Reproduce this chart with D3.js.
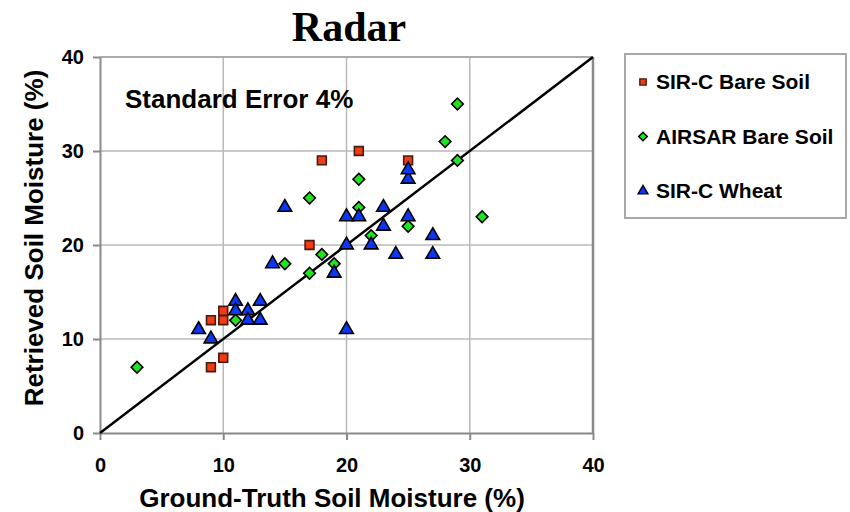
<!DOCTYPE html>
<meta charset="utf-8">
<style>
  body { margin: 0; background: #fff; }
  text { font-family: "Liberation Sans", Arial, sans-serif; font-weight: bold; fill: #000; }
  .grid line { stroke: #b8b8b8; stroke-width: 1.5px; }
  .axis path, .axis line { stroke: #8a8a8a; stroke-width: 2px; }
</style>
<svg width="850" height="512"></svg>
<script src="https://d3js.org/d3.v7.min.js"></script>
<script>

    var svg = d3.select("svg");

    var sircBareX = [9, 10, 9, 10, 10, 17, 18, 21, 25];
    var sircBareY = [7, 8, 12, 12, 13, 20, 29, 30, 29];

    var airsarX = [3, 11, 15, 17, 19, 18, 22, 17, 21, 21, 25, 28, 29, 29, 31];
    var airsarY = [7, 12, 18, 17, 18, 19, 21, 25, 24, 27, 22, 31, 29, 35, 23];

    var wheatX = [8, 9, 11, 11, 12, 12, 13, 13, 14, 15, 19, 20, 20, 21, 20, 22, 23, 23, 24, 25, 25, 25, 27, 27];
    var wheatY = [11, 10, 14, 13, 13, 12, 12, 14, 18, 24, 17, 20, 23, 23, 11, 20, 22, 24, 19, 23, 27, 28, 21, 19];

    var tickValues = [0, 10, 20, 30, 40];
    var seriesNames = ["SIR-C Bare Soil", "AIRSAR Bare Soil", "SIR-C Wheat"];

    var x = d3.scaleLinear().domain([0, 40]).range([100, 593]);
    var y = d3.scaleLinear().domain([0, 40]).range([433, 57]);

    function zip(xs, ys) {
        return xs.map(function(v, i) { return {x: v, y: ys[i]}; });
    }

    var series = [
        {name: seriesNames[0], data: zip(sircBareX, sircBareY), type: d3.symbolSquare, size: 78, legendSize: 40, rot: 0, fill: "#f03c14", stroke: "#4a1a10"},
        {name: seriesNames[1], data: zip(airsarX, airsarY), type: d3.symbolSquare, size: 68, legendSize: 38, rot: 45, fill: "#1ee61e", stroke: "#000"},
        {name: seriesNames[2], data: zip(wheatX, wheatY), type: d3.symbolTriangle, size: 80, legendSize: 42, rot: 0, fill: "#0a37f5", stroke: "#000"}
    ];

    // grid
    var grid = svg.append("g").attr("class", "grid");
    grid.selectAll(".gx")
        .data(tickValues.slice(1, 4))
        .enter().append("line")
        .attr("x1", function(d) { return x(d); })
        .attr("x2", function(d) { return x(d); })
        .attr("y1", y(0))
        .attr("y2", y(40));
    grid.selectAll(".gy")
        .data(tickValues.slice(1, 4))
        .enter().append("line")
        .attr("x1", x(0))
        .attr("x2", x(40))
        .attr("y1", function(d) { return y(d); })
        .attr("y2", function(d) { return y(d); });

    // plot border top / right
    svg.append("line")
        .attr("x1", x(0)).attr("x2", x(40)).attr("y1", y(40)).attr("y2", y(40))
        .attr("stroke", "#aaa").attr("stroke-width", 2);
    svg.append("line")
        .attr("x1", x(40)).attr("x2", x(40)).attr("y1", y(0)).attr("y2", y(40))
        .attr("stroke", "#8a8a8a").attr("stroke-width", 2.5);

    // axes
    var xAxis = svg.append("g")
        .attr("class", "axis")
        .attr("transform", "translate(0," + y(0) + ")")
        .call(d3.axisBottom(x).tickValues(tickValues).tickSize(7).tickPadding(18).tickSizeOuter(0));
    xAxis.selectAll("text").style("font-size", "20px").style("font-family", null);

    var yAxis = svg.append("g")
        .attr("class", "axis")
        .attr("transform", "translate(" + x(0) + ",0)")
        .call(d3.axisLeft(y).tickValues(tickValues).tickSize(7).tickPadding(9).tickSizeOuter(0));
    yAxis.selectAll("text").style("font-size", "20px").style("font-family", null);

    svg.selectAll(".axis text").attr("fill", "#000");

    // 1:1 line
    svg.append("line")
        .attr("x1", x(0)).attr("y1", y(0))
        .attr("x2", x(40)).attr("y2", y(40))
        .attr("stroke", "#000")
        .attr("stroke-width", 2.5);

    // points
    series.forEach(function(s) {
        svg.append("g")
            .selectAll("path")
            .data(s.data)
            .enter().append("path")
            .attr("d", d3.symbol().type(s.type).size(s.size))
            .attr("transform", function(d) { return "translate(" + x(d.x) + "," + y(d.y) + ") rotate(" + s.rot + ")"; })
            .attr("fill", s.fill)
            .attr("stroke", s.stroke)
            .attr("stroke-width", 1.6);
    });

    // labels
    svg.append("text")
        .attr("x", 349)
        .attr("y", 41)
        .attr("text-anchor", "middle")
        .style("font-family", "'Liberation Serif', 'Times New Roman', serif")
        .style("font-size", "42px")
        .text("Radar");

    svg.append("text")
        .attr("x", 125)
        .attr("y", 108)
        .style("font-size", "26px")
        .text("Standard Error 4%");

    svg.append("text")
        .attr("x", 332)
        .attr("y", 507)
        .attr("text-anchor", "middle")
        .style("font-size", "26px")
        .text("Ground-Truth Soil Moisture (%)");

    svg.append("text")
        .attr("transform", "translate(43,238) rotate(-90)")
        .attr("text-anchor", "middle")
        .style("font-size", "26px")
        .text("Retrieved Soil Moisture (%)");

    // legend
    var legend = svg.append("g");
    legend.append("rect")
        .attr("x", 625).attr("y", 54)
        .attr("width", 221).attr("height", 164)
        .attr("fill", "#fff")
        .attr("stroke", "#a8a8a8")
        .attr("stroke-width", 2);

    var item = legend.selectAll(".item")
        .data(series)
        .enter().append("g")
        .attr("transform", function(d, i) { return "translate(0," + (82 + i * 54.5) + ")"; });

    item.append("path")
        .attr("d", function(d) { return d3.symbol().type(d.type).size(d.legendSize)(); })
        .attr("transform", function(d) { return "translate(643,0) rotate(" + d.rot + ")"; })
        .attr("fill", function(d) { return d.fill; })
        .attr("stroke", function(d) { return d.stroke; })
        .attr("stroke-width", 1.4);

    item.append("text")
        .attr("x", 656)
        .attr("y", 7)
        .style("font-size", "21px")
        .text(function(d) { return d.name; });

</script>
